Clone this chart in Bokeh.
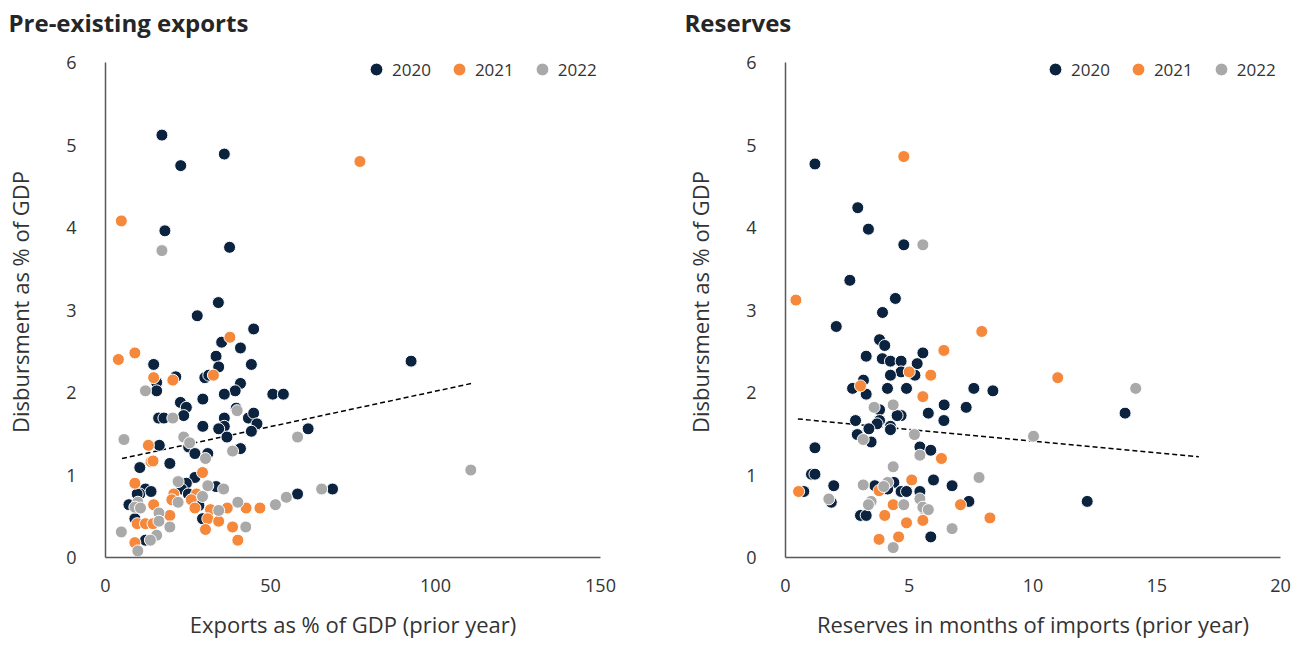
from bokeh.plotting import figure
from bokeh.layouts import row
from bokeh.models import Range1d, FixedTicker, Legend, LegendItem
from bokeh.embed import file_html
from bokeh.resources import INLINE

# ---------------- data: Pre-existing exports ----------------
exp_2020_x = [17.1, 36.0, 22.8, 18.0, 37.6, 92.6, 68.8, 61.4, 34.2, 27.8, 44.9, 35.2, 40.9, 14.6, 33.5,
              44.2, 34.3, 21.3, 15.5, 15.5, 30.1, 31.3, 40.9, 39.3, 36.0, 50.7, 53.9, 29.5, 22.7, 24.5,
              39.6, 23.7, 16.1, 17.7, 36.0, 43.3, 44.9, 45.9, 29.5, 36.0, 34.3, 44.2, 36.8, 16.3, 25.2,
              27.1, 31.0, 40.9, 10.4, 19.5, 27.1, 24.5, 23.0, 33.5, 12.1, 10.4, 9.6, 13.8, 25.1, 28.3,
              7.1, 58.2, 8.9, 29.4, 12.1]
exp_2020_y = [5.12, 4.89, 4.75, 3.96, 3.76, 2.38, 0.83, 1.56, 3.09, 2.93, 2.77, 2.61, 2.54, 2.34, 2.44,
              2.34, 2.31, 2.19, 2.12, 2.02, 2.18, 2.21, 2.11, 2.02, 1.98, 1.98, 1.98, 1.92, 1.88, 1.82,
              1.81, 1.72, 1.69, 1.69, 1.69, 1.69, 1.75, 1.62, 1.59, 1.59, 1.56, 1.53, 1.46, 1.36, 1.34,
              1.26, 1.26, 1.32, 1.09, 1.14, 0.97, 0.90, 0.83, 0.86, 0.83, 0.77, 0.77, 0.80, 0.77, 0.63,
              0.64, 0.77, 0.47, 0.47, 0.21]
exp_2021_x = [4.8, 77.1, 37.7, 3.9, 8.9, 14.6, 20.4, 32.7, 13.0, 13.8, 14.4, 29.4, 8.9, 20.7, 27.6,
              20.1, 26.0, 27.1, 14.6, 31.8, 36.9, 42.6, 46.8, 19.5, 9.6, 12.1, 14.4, 31.0, 34.3, 30.3,
              38.5, 40.1, 8.9]
exp_2021_y = [4.08, 4.80, 2.67, 2.40, 2.48, 2.18, 2.15, 2.21, 1.36, 1.16, 1.17, 1.03, 0.90, 0.77, 0.77,
              0.70, 0.70, 0.60, 0.64, 0.58, 0.60, 0.60, 0.60, 0.51, 0.41, 0.41, 0.41, 0.47, 0.44, 0.34,
              0.37, 0.21, 0.18]
exp_2022_x = [17.1, 110.7, 65.5, 12.1, 39.9, 20.4, 58.2, 5.6, 23.7, 25.5, 30.3, 38.5, 22.0, 31.0, 35.8,
              29.4, 22.0, 9.8, 8.9, 10.6, 34.3, 40.1, 51.5, 54.8, 16.2, 16.2, 19.5, 42.5, 4.8, 15.5,
              13.6, 9.8]
exp_2022_y = [3.72, 1.06, 0.83, 2.02, 1.78, 1.69, 1.46, 1.43, 1.46, 1.39, 1.20, 1.29, 0.92, 0.87, 0.83,
              0.74, 0.67, 0.67, 0.61, 0.60, 0.57, 0.67, 0.64, 0.73, 0.54, 0.44, 0.37, 0.37, 0.31, 0.27,
              0.21, 0.08]
exp_trend_x = [5.0, 111.0]
exp_trend_y = [1.20, 2.11]

# ---------------- data: Reserves ----------------
res_2020_x = [1.19, 2.92, 3.35, 4.78, 2.60, 4.44, 3.92, 2.05, 3.80, 4.01, 3.26, 5.55, 3.91, 4.24, 4.67,
              5.32, 4.67, 5.23, 4.24, 3.15, 2.71, 3.26, 4.12, 4.89, 7.61, 8.38, 3.80, 7.30, 6.41, 5.77,
              4.67, 4.51, 2.83, 3.80, 6.40, 4.24, 3.70, 3.37, 4.24, 2.90, 3.46, 1.19, 5.43, 5.87, 13.72,
              12.19, 1.05, 1.19, 5.98, 1.95, 3.61, 4.38, 4.13, 4.67, 4.89, 5.43, 6.73, 0.74, 1.85, 7.41,
              3.03, 3.26, 5.87]
res_2020_y = [4.77, 4.24, 3.98, 3.79, 3.36, 3.14, 2.97, 2.80, 2.64, 2.57, 2.44, 2.48, 2.41, 2.38, 2.38,
              2.35, 2.25, 2.21, 2.21, 2.15, 2.05, 1.98, 2.05, 2.05, 2.05, 2.02, 1.79, 1.82, 1.85, 1.75,
              1.72, 1.72, 1.66, 1.66, 1.66, 1.59, 1.62, 1.56, 1.55, 1.49, 1.40, 1.33, 1.34, 1.30, 1.75,
              0.68, 1.01, 1.01, 0.94, 0.87, 0.87, 0.91, 0.83, 0.80, 0.80, 0.80, 0.87, 0.80, 0.67, 0.68,
              0.51, 0.51, 0.25]
res_2021_x = [4.78, 0.42, 7.93, 6.40, 5.00, 5.87, 3.03, 5.55, 6.30, 11.0, 5.10, 3.78, 0.53, 4.35, 5.64,
              5.55, 7.07, 8.26, 4.01, 4.89, 3.78, 4.57]
res_2021_y = [4.86, 3.12, 2.74, 2.51, 2.25, 2.21, 2.08, 1.95, 1.20, 2.18, 0.94, 0.81, 0.80, 0.64, 0.57,
              0.45, 0.64, 0.48, 0.51, 0.42, 0.22, 0.25]
res_2022_x = [5.55, 3.58, 4.35, 5.21, 3.14, 10.02, 5.43, 14.15, 4.35, 7.82, 3.14, 4.13, 3.97, 1.75, 3.46,
              3.35, 4.78, 5.43, 5.55, 5.77, 6.73, 4.35]
res_2022_y = [3.79, 1.82, 1.85, 1.49, 1.43, 1.47, 1.24, 2.05, 1.10, 0.97, 0.88, 0.91, 0.86, 0.71, 0.68,
              0.64, 0.64, 0.71, 0.61, 0.58, 0.35, 0.12]
res_trend_x = [0.5, 16.7]
res_trend_y = [1.68, 1.22]

years = ["2020", "2021", "2022"]
colors = ["#0c2340", "#f5883a", "#a9a9a9"]

y_ticks = [0, 1, 2, 3, 4, 5, 6]
exp_ticks = [0, 50, 100, 150]
res_ticks = [0, 5, 10, 15, 20]

LABEL_FONT = "Open Sans"
TITLE_FONT = "Open Sans"
TEXT_COLOR = "#333333"
AXIS_COLOR = "#595959"

# layout (pixels)
FRAME_TOP = 46          # frame extends a bit above the "6" tick so the legend fits inside
FRAME_H = 511
BORDER_BOTTOM = 89
PX_PER_UNIT_Y = 82.5
Y_TOP = 6 + (FRAME_H - 6 * PX_PER_UNIT_Y) / PX_PER_UNIT_Y


def make_panel(title, xlabel, xmax, xticks, series, trend, width, border_left, border_right,
               title_offset, legend_x):
    p = figure(width=width, height=FRAME_TOP + FRAME_H + BORDER_BOTTOM,
               output_backend="svg", toolbar_location=None,
               x_range=Range1d(0, xmax), y_range=Range1d(0, Y_TOP),
               min_border_left=border_left, min_border_right=border_right,
               min_border_top=FRAME_TOP, min_border_bottom=BORDER_BOTTOM, title=title)
    p.title.align = "left"
    p.title.vertical_align = "top"
    p.title.offset = title_offset
    p.title.standoff = 11
    p.title.text_font = TITLE_FONT
    p.title.text_font_size = "24px"
    p.title.text_font_style = "bold"
    p.title.text_color = "#262626"
    p.outline_line_color = None
    p.grid.visible = False

    p.line(trend[0], trend[1], line_color="black", line_width=1.5, line_dash="5 3")

    items = []
    for (xs, ys), yr, c in zip(series, years, colors):
        r = p.scatter(xs, ys, size=12, fill_color=c, line_color="white", line_width=1)
        items.append(LegendItem(label=yr, renderers=[r]))

    for ax in (p.xaxis[0], p.yaxis[0]):
        ax.axis_line_color = AXIS_COLOR
        ax.axis_line_width = 1.5
        ax.major_tick_line_color = None
        ax.minor_tick_line_color = None
        ax.major_label_text_font = LABEL_FONT
        ax.major_label_text_font_size = "18px"
        ax.major_label_text_color = TEXT_COLOR
        ax.axis_label_text_font = LABEL_FONT
        ax.axis_label_text_font_size = "22px"
        ax.axis_label_text_font_style = "normal"
        ax.axis_label_text_color = TEXT_COLOR

    p.yaxis.bounds = (0, 6)
    p.xaxis.ticker = FixedTicker(ticks=xticks)
    p.yaxis.ticker = FixedTicker(ticks=y_ticks)
    p.xaxis.axis_label = xlabel
    p.yaxis.axis_label = "Disbursment as % of GDP"
    p.xaxis.major_label_standoff = 15
    p.yaxis.major_label_standoff = 23
    p.xaxis.axis_label_standoff = 14
    p.yaxis.axis_label_standoff = 28

    legend = Legend(items=items, location=(legend_x, 472), orientation="horizontal",
                    border_line_alpha=0, background_fill_alpha=0,
                    label_text_font=LABEL_FONT, label_text_font_size="17px",
                    label_text_color=TEXT_COLOR, glyph_width=32, glyph_height=32,
                    label_standoff=0, spacing=12, padding=0, margin=0)
    p.add_layout(legend, "center")
    return p


p1 = make_panel("Pre-existing exports", "Exports as % of GDP (prior year)", 150, exp_ticks,
                [(exp_2020_x, exp_2020_y), (exp_2021_x, exp_2021_y), (exp_2022_x, exp_2022_y)],
                (exp_trend_x, exp_trend_y), width=678, border_left=105, border_right=78,
                title_offset=-97, legend_x=255)
p2 = make_panel("Reserves", "Reserves in months of imports (prior year)", 20, res_ticks,
                [(res_2020_x, res_2020_y), (res_2021_x, res_2021_y), (res_2022_x, res_2022_y)],
                (res_trend_x, res_trend_y), width=617, border_left=107, border_right=15,
                title_offset=-101, legend_x=254)

layout = row(p1, p2, spacing=0)
open("out.html", "w").write(file_html(layout, INLINE))
